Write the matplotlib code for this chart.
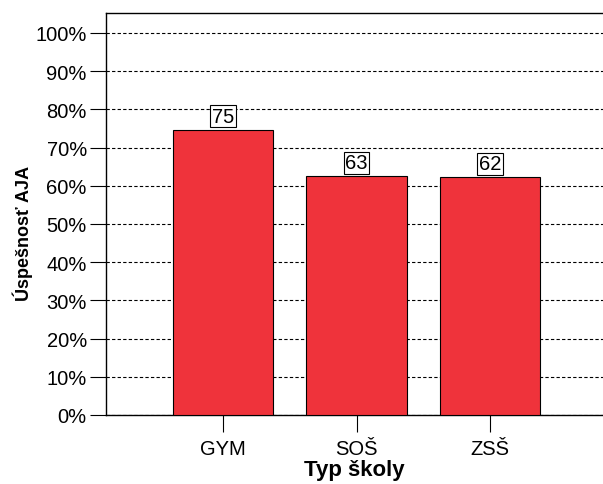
import matplotlib.pyplot as plt
from matplotlib.ticker import PercentFormatter

plt.rcParams['font.family'] = ['Liberation Sans', 'DejaVu Sans']

# school types and success rate (%)
categories = ['GYM', 'SOŠ', 'ZSŠ']
values = [74.7, 62.5, 62.2]
labels = ['75', '63', '62']

fig = plt.figure(figsize=(6.03, 4.85), dpi=100)
ax = fig.add_axes([105.5 / 603, 1 - 416 / 485, 1 - 105.5 / 603, (416 - 14) / 485])

x = range(len(categories))
bars = ax.bar(x, values, width=0.75, color='#EF333B', edgecolor='black', linewidth=0.8, zorder=3)

for b, lab in zip(bars, labels):
    ax.text(b.get_x() + b.get_width() / 2, b.get_height() + 1.0, lab,
            ha='center', va='bottom', fontsize=14.5,
            bbox=dict(boxstyle='square,pad=0.08', fc='white', ec='black', lw=0.8), zorder=4)

ax.set_ylim(0, 105.2)
ax.set_xlim(-0.877, 2.843)
ax.set_yticks(range(0, 101, 10))
ax.yaxis.set_major_formatter(PercentFormatter(decimals=0))
ax.set_xticks(list(x))
ax.set_xticklabels(categories)
ax.yaxis.grid(True, linestyle=(0, (3, 2)), color='black', linewidth=0.8, zorder=0)
ax.tick_params(axis='y', direction='out', length=11.5, width=0.8, labelsize=14.5, pad=2)
ax.tick_params(axis='x', direction='out', length=12, width=0.8, labelsize=14.5, pad=5)

ax.spines['right'].set_visible(False)
for s in ['left', 'top', 'bottom']:
    ax.spines[s].set_linewidth(1.0)

ax.set_xlabel('Typ školy', fontsize=16, fontweight='bold', labelpad=1)
ax.set_ylabel('Úspešnosť AJA', fontsize=13, fontweight='bold')
ax.yaxis.set_label_coords(-0.145, 0.455)

fig.savefig('out.png', dpi=100)
